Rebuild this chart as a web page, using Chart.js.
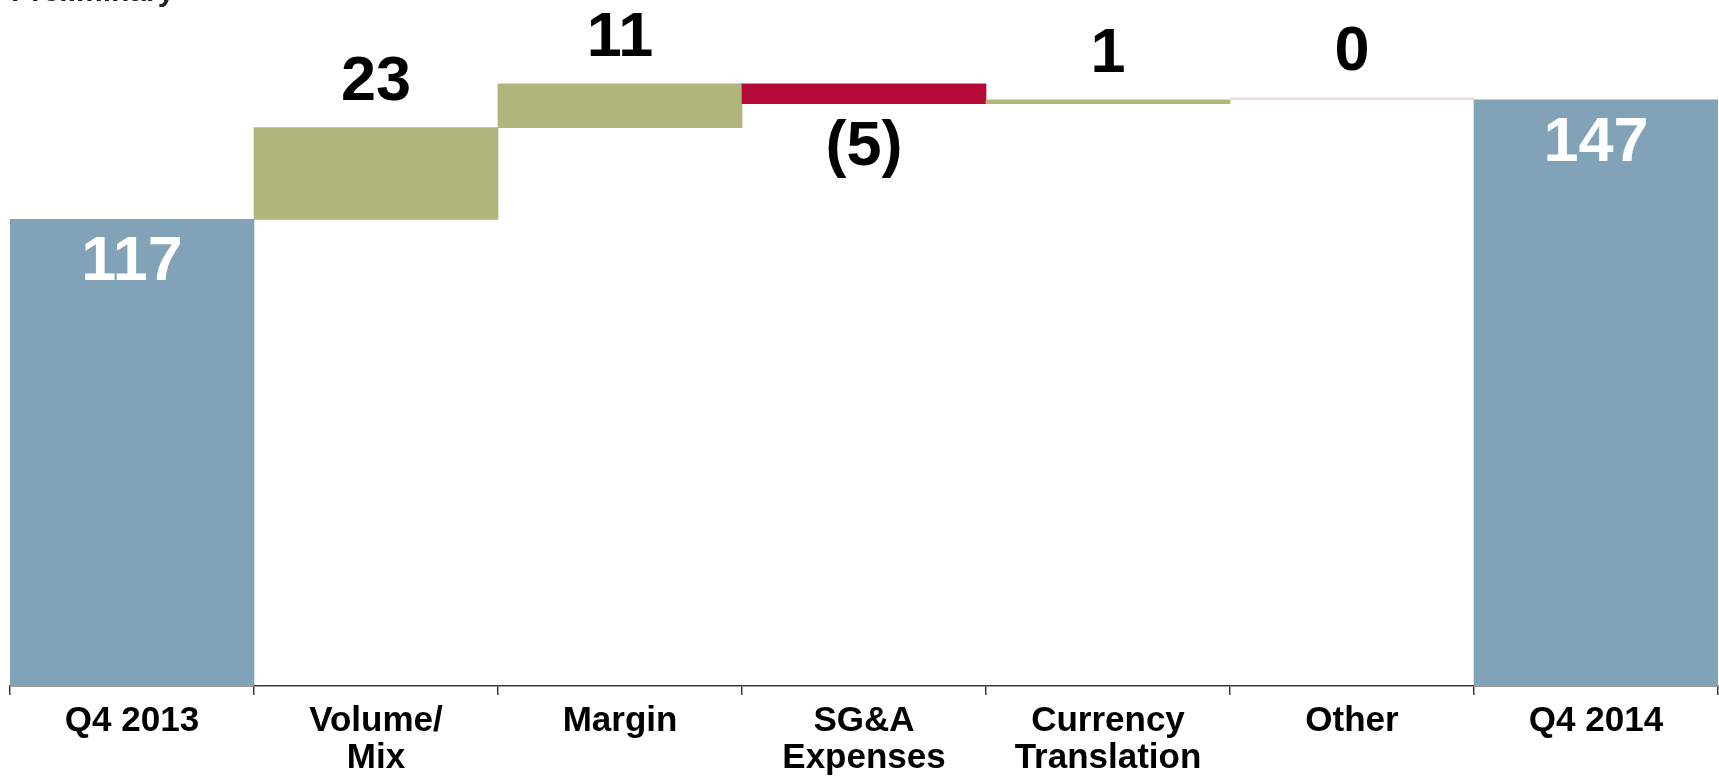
<!DOCTYPE html>
<html>
<head>
<meta charset="utf-8">
<script src="https://cdn.jsdelivr.net/npm/chart.js@4/dist/chart.umd.min.js"></script>
<style>
    html, body { margin: 0; padding: 0; background: #fff; }
    #wrap { position: relative; width: 1719px; height: 776px; }
</style>
</head>
<body>
<div id="wrap"><canvas id="bridge"></canvas></div>
<script>
const categories = [['Q4 2013'], ['Volume/', 'Mix'], ['Margin'], ['SG&A', 'Expenses'], ['Currency', 'Translation'], ['Other'], ['Q4 2014']];
const amounts = [117, 23, 11, -5, 1, 0, 147];
const isTotal = [true, false, false, false, false, false, true];

const FONT = '"Liberation Sans", Arial, sans-serif';

document.addEventListener('DOMContentLoaded', () => {
    main();
});

function main() {
    const ranges = [];
    const colors = [];
    let running = 0;
    amounts.forEach((v, i) => {
        if (isTotal[i]) {
            ranges.push([0, v]);
            running = v;
            colors.push('#82A2B8');
        } else {
            ranges.push([running, running + v]);
            running += v;
            colors.push(v > 0 ? '#B0B67B' : v < 0 ? '#B5093A' : '#F2D6DF');
        }
    });

    // value labels: totals inside in white, changes above (or below when negative)
    const valueLabels = {
        id: 'valueLabels',
        afterDatasetsDraw(chart) {
            const ctx = chart.ctx;
            const meta = chart.getDatasetMeta(0);
            ctx.save();
            ctx.font = 'bold 63px ' + FONT;
            ctx.textAlign = 'center';
            ctx.textBaseline = 'alphabetic';
            meta.data.forEach((bar, i) => {
                const v = amounts[i];
                const top = Math.min(bar.y, bar.base);
                const bottom = Math.max(bar.y, bar.base);
                const text = v < 0 ? `(${-v})` : `${v}`;
                if (isTotal[i]) {
                    ctx.fillStyle = '#fff';
                    ctx.fillText(text, bar.x, top + 61);
                } else if (v < 0) {
                    ctx.fillStyle = '#000';
                    ctx.fillText(text, bar.x, bottom + 61);
                } else {
                    ctx.fillStyle = '#000';
                    ctx.fillText(text, bar.x, top - 28);
                }
            });
            ctx.restore();
        }
    };

    const stamp = {
        id: 'stamp',
        afterDraw(chart) {
            const ctx = chart.ctx;
            ctx.save();
            ctx.font = 'bold 30px ' + FONT;
            ctx.fillStyle = '#222';
            ctx.textAlign = 'left';
            ctx.textBaseline = 'alphabetic';
            ctx.fillText('Preliminary', 11, 1);
            ctx.restore();
        }
    };

    const ctx = document.querySelector('#bridge').getContext('2d');
    new Chart(ctx, {
        type: 'bar',
        data: {
            labels: categories,
            datasets: [
                {
                    data: ranges,
                    backgroundColor: colors,
                    borderWidth: 0,
                    barPercentage: 1,
                    categoryPercentage: 1,
                    minBarLength: 2,
                }
            ],
        },
        options: {
            responsive: true,
            maintainAspectRatio: false,
            animation: false,
            layout: { padding: { left: 10, right: 1, top: 0, bottom: 0 } },
            plugins: {
                legend: { display: false },
                tooltip: { enabled: false },
            },
            scales: {
                x: {
                    afterFit: scale => { scale.height = 90; },
                    border: { display: true, color: '#3a3a3a', width: 1.5 },
                    grid: {
                        drawOnChartArea: false,
                        drawTicks: true,
                        tickLength: 9,
                        color: '#3a3a3a',
                        lineWidth: 1.5,
                    },
                    ticks: {
                        color: '#000',
                        padding: 7,
                        maxRotation: 0,
                        autoSkip: false,
                        font: { family: FONT, size: 35, weight: 'bold', lineHeight: 1.08 },
                    },
                },
                y: {
                    display: false,
                    min: 0,
                    max: 172,
                },
            },
        },
        plugins: [valueLabels, stamp],
    });
}
</script>
</body>
</html>
